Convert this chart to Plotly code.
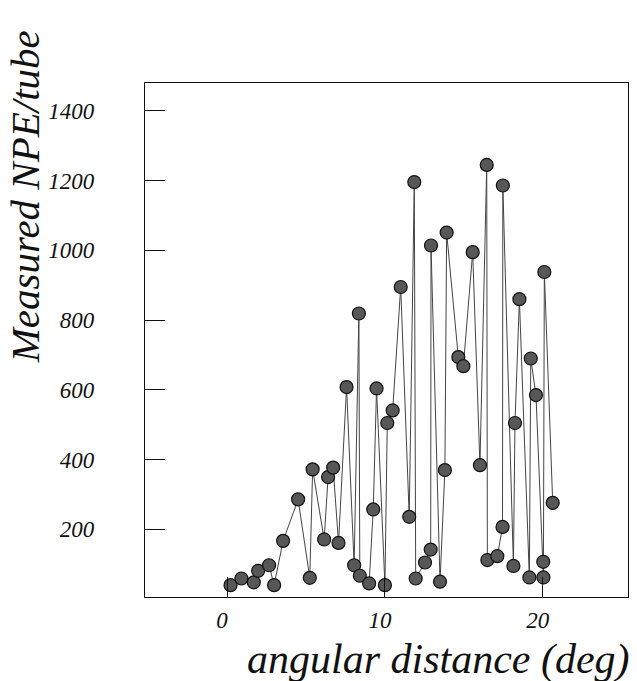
import plotly.graph_objects as go

angle_deg = [0.22, 0.91, 1.69, 1.97, 2.66, 2.98, 3.55, 4.50, 5.24, 5.42,
             6.15, 6.40, 6.72, 7.06, 7.57, 8.05, 8.35, 8.41, 9.00, 9.26,
             9.47, 10.00, 10.15, 10.49, 11.00, 11.54, 11.86, 11.95, 12.54, 12.90,
             12.92, 13.49, 13.80, 13.91, 14.65, 14.97, 15.56, 16.02, 16.45, 16.49,
             17.12, 17.45, 17.47, 18.14, 18.24, 18.52, 19.15, 19.24, 19.57, 20.03,
             20.04, 20.10, 20.63]
npe = [40, 59, 48, 81, 97, 40, 167, 286, 61, 372,
       171, 350, 377, 161, 608, 97, 819, 67, 45, 257,
       604, 40, 505, 541, 895, 236, 1196, 59, 105, 142,
       1014, 50, 370, 1051, 694, 668, 995, 384, 1245, 112,
       123, 207, 1186, 95, 505, 860, 62, 690, 585, 107,
       62, 938, 276]

x_ticks = [0, 10, 20]
y_ticks = [200, 400, 600, 800, 1000, 1200, 1400]

serif = "Liberation Serif, Times New Roman, serif"

fig = go.Figure()
fig.add_trace(go.Scatter(
    x=angle_deg, y=npe, mode="lines+markers",
    line=dict(color="#444444", width=1),
    marker=dict(size=13, color="#575757", line=dict(color="#111111", width=1.2)),
    showlegend=False,
))

fig.update_layout(
    width=637, height=681,
    margin=dict(l=145, r=9, t=83, b=84),
    paper_bgcolor="white", plot_bgcolor="white",
    font=dict(family=serif, color="#111111"),
    xaxis=dict(
        range=[-5.2, 25.4], tickvals=x_ticks, ticktext=[str(v) for v in x_ticks],
        ticks="inside", ticklen=20, tickwidth=1.2, tickcolor="#111",
        showline=True, linecolor="#111", linewidth=1.3, mirror=True,
        showgrid=False, zeroline=False, automargin=False,
        tickfont=dict(family=serif, size=23, style="italic"),
        ticklabelstandoff=2, ticklabelshift=-5,
    ),
    yaxis=dict(
        range=[6, 1480], tickvals=y_ticks, ticktext=[str(v) for v in y_ticks],
        ticks="inside", ticklen=20, tickwidth=1.2, tickcolor="#111",
        showline=True, linecolor="#111", linewidth=1.3, mirror=True,
        showgrid=False, zeroline=False, automargin=False,
        tickfont=dict(family=serif, size=23, style="italic"),
        ticklabelstandoff=45,
    ),
    annotations=[
        dict(text="Measured NPE/tube", textangle=-90, xref="paper", yref="paper",
             x=-0.248, y=0.778, xanchor="center", yanchor="middle", showarrow=False,
             font=dict(family=serif, size=41, style="italic", color="#111")),
        dict(text="angular distance (deg)", xref="paper", yref="paper",
             x=1.008, y=-0.122, xanchor="right", yanchor="middle", showarrow=False,
             font=dict(family=serif, size=42, style="italic", color="#111")),
    ],
)

fig.write_html(
    "out.html",
    config={"displayModeBar": False},
    post_script="document.body.style.margin='0';document.body.style.overflow='hidden';",
)
